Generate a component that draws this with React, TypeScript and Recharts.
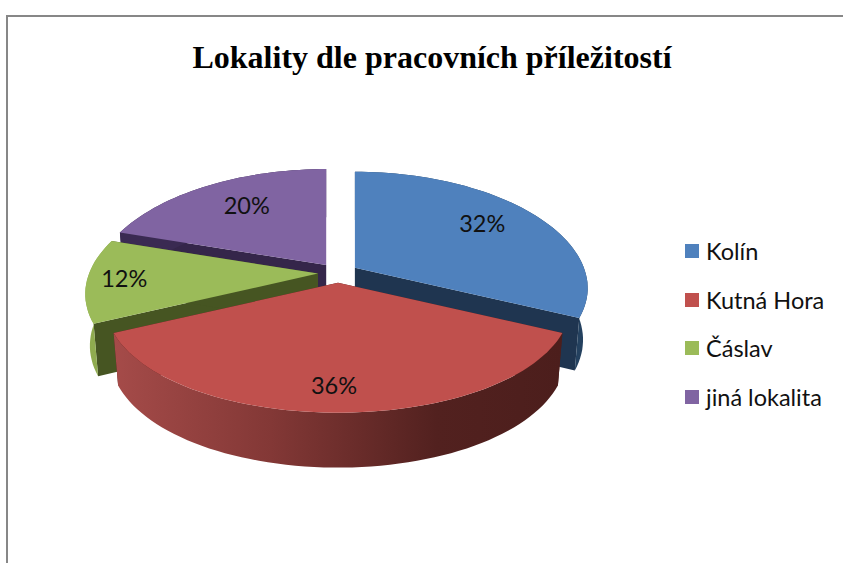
import { PieChart, Pie, Legend } from "recharts";

const categories = ["Kolín", "Kutná Hora", "Čáslav", "jiná lokalita"];
const shares = [32, 36, 12, 20];
const topColors = ["#4f81bd", "#c0504d", "#9bbb59", "#8064a2"];
const cutColors = ["#1f3550", "#4c1e1c", "#465522", "#35264a"];
const rimColors = ["#24415f", "url(#redRim)", "#8fab4f", "#3a2a52"];
const labelReach = [0.68, 0.76, 0.84, 0.7];
const labelNudge = [[4, -7], [-4, 8], [0, -1], [6, -2]];
// back-to-front, so the red slice ends up over its neighbours
const drawOrder = [0, 3, 2, 1];

const data = categories.map((name, i) => ({ name, value: shares[i], fill: topColors[i] }));

const EXPLODE = 20;
const TILT = 0.49;
const PERSPECTIVE_X = 0.18;
const PERSPECTIVE_Y = 0.15;
const FLAT = 110.4;
const DEPTH = 51;
const LABEL_FONT = "Lato, 'Open Sans', sans-serif";

const rad = (deg: number) => (deg * Math.PI) / 180;

// maps a point of the round pie onto the tilted disc; r is 0..1 of the radius
function project(ax: number, ay: number, radius: number, deg: number, r: number, bottom = false) {
  const u = Math.cos(rad(deg)) * r;
  const v = -Math.sin(rad(deg)) * r;
  const sx = 1 / (1 - PERSPECTIVE_X * v);
  const sy = 1 / (1 - PERSPECTIVE_Y * v);
  return bottom
    ? [ax + radius * u * sx * 0.98, ay + DEPTH + FLAT * v * sy * 1.03]
    : [ax + radius * u * sx, ay + FLAT * v * sy];
}

const toPath = (pts: number[][]) =>
  "M" + pts.map((p) => `${p[0].toFixed(1)},${p[1].toFixed(1)}`).join("L") + "Z";

function makeSlice(only: number) {
  return function Slice(props: any) {
    const { cx, cy, outerRadius, startAngle, endAngle, midAngle, percent, index } = props;
    if (index !== only) return null;
    const ax = cx + EXPLODE * Math.cos(rad(midAngle));
    const ay = cy - EXPLODE * TILT * Math.sin(rad(midAngle));
    const steps = Math.ceil(Math.abs(startAngle - endAngle) / 2);
    const angles = Array.from({ length: steps + 1 }, (_, k) => startAngle + ((endAngle - startAngle) * k) / steps);
    const rimTop = angles.map((a) => project(ax, ay, outerRadius, a, 1));
    const rimBottom = angles.map((a) => project(ax, ay, outerRadius, a, 1, true));
    const cut = (a: number) =>
      toPath([
        [ax, ay],
        project(ax, ay, outerRadius, a, 1),
        project(ax, ay, outerRadius, a, 1, true),
        [ax, ay + DEPTH],
      ]);
    const [lx, ly] = project(ax, ay, outerRadius, midAngle, labelReach[index]);
    return (
      <g>
        <path d={cut(startAngle)} fill={cutColors[index]} />
        <path d={cut(endAngle)} fill={cutColors[index]} />
        <path d={toPath([...rimTop, ...rimBottom.reverse()])} fill={rimColors[index]} />
        <path d={toPath([[ax, ay], ...rimTop])} fill={topColors[index]} />
        <text
          x={lx + labelNudge[index][0]}
          y={ly + labelNudge[index][1]}
          textAnchor="middle"
          dominantBaseline="central"
          fontFamily={LABEL_FONT}
          fontSize={23.5}
          fill="#111"
        >
          {Math.round(percent * 100)}%
        </text>
      </g>
    );
  };
}

const renderLegend = () => (
  <div>
    {categories.map((name, i) => (
      <div key={name} style={{ display: "flex", alignItems: "center", height: 48.6 }}>
        <span style={{ width: 14, height: 14, background: topColors[i], marginRight: 7 }} />
        <span style={{ fontFamily: LABEL_FONT, fontSize: 23.5, color: "#111", whiteSpace: "nowrap" }}>{name}</span>
      </div>
    ))}
  </div>
);

export default function App() {
  return (
    <div style={{ position: "absolute", left: 0, top: 0, width: 843, height: 563, background: "#fff", overflow: "hidden" }}>
      <div
        style={{
          position: "absolute",
          left: 6,
          top: 15,
          right: 0,
          bottom: 0,
          borderTop: "2px solid #878787",
          borderLeft: "2px solid #878787",
        }}
      />
      <PieChart width={843} height={563} margin={{ top: 0, right: 0, bottom: 0, left: 0 }} style={{ position: "absolute", left: 0, top: 0 }}>
        <defs>
          <linearGradient id="redRim" x1="0" y1="0" x2="1" y2="0">
            <stop offset="0%" stopColor="#a54b49" />
            <stop offset="35%" stopColor="#833836" />
            <stop offset="72%" stopColor="#52211f" />
            <stop offset="100%" stopColor="#4c1e1c" />
          </linearGradient>
        </defs>
        <text x={432} y={68} textAnchor="middle" fontFamily="'Liberation Serif', serif" fontWeight="bold" fontSize={32} fill="#000">
          Lokality dle pracovních příležitostí
        </text>
        {drawOrder.map((slice) => (
          <Pie
            key={slice}
            data={data}
            dataKey="value"
            nameKey="name"
            cx={338}
            cy={273}
            outerRadius={229}
            startAngle={90}
            endAngle={-270}
            stroke="none"
            legendType="none"
            isAnimationActive={false}
            shape={makeSlice(slice)}
          />
        ))}
        <Legend content={renderLegend} wrapperStyle={{ left: 685, top: 227, width: 158, bottom: "auto" }} />
      </PieChart>
    </div>
  );
}
